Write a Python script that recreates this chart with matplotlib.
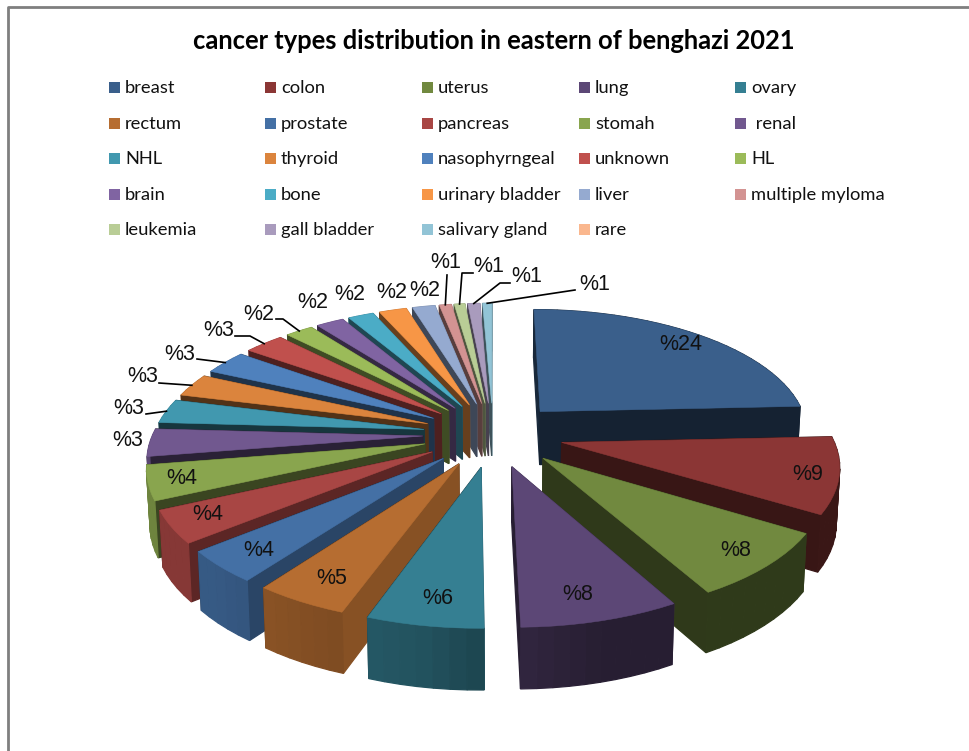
"""Exploded 3D pie of cancer types, drawn as projected polygons"""

import numpy as np
import matplotlib.pyplot as plt
from matplotlib.patches import Polygon, Rectangle

types = ['breast', 'colon', 'uterus', 'lung', 'ovary',
         'rectum', 'prostate', 'pancreas', 'stomah', ' renal',
         'NHL', 'thyroid', 'nasophyrngeal', 'unknown', 'HL',
         'brain', 'bone', 'urinary bladder', 'liver', 'multiple myloma',
         'leukemia', 'gall bladder', 'salivary gland', 'rare']
# Printed labels, and the shares
shown = [24, 9, 8, 8, 6, 5, 4, 4, 4, 3, 3, 3, 3, 3, 2, 2, 2, 2, 2, 1, 1, 1, 1]
share = [24.3, 9.5, 8.17, 7.83, 5.71, 4.62, 4.0, 4.05, 4.33, 3.47, 3.05, 2.92, 3.05, 2.78,
         1.94, 1.94, 1.8, 1.94, 1.6, 0.85, 0.75, 0.85, 0.65, 0.0]
colors = ['#3A5F8B', '#8B3635', '#71893F', '#5C4776', '#357F92', '#B66D31',
          '#4470A5', '#A84644', '#89A54E', '#71588F', '#4198AF', '#DB843D',
          '#4F81BD', '#C0504D', '#9BBB59', '#8064A2', '#4BACC6', '#F79646',
          '#95AAD0', '#D39392', '#B9CD96', '#A99BBD', '#92C4D6', '#FAB78E']

# Label centres and leader bends, in pixels of the picture
label_xy = [(681, 344), (808, 474), (736, 551), (578, 594), (438, 598), (332, 579),
            (259, 551), (208, 515), (182, 478), (128, 441), (129, 408), (143, 376),
            (180, 354), (219, 330), (259, 314), (313, 303), (350, 294), (392, 293),
            (425, 290), (446, 263), (489, 267), (527, 276), (595, 284)]
leaders = {10: [(146, 414)],
           11: [(159, 383)],
           12: [(197, 359)],
           13: [(235, 336), (250, 336)],
           14: [(276, 319), (283, 319)],
           19: [(447, 275)],
           20: [(473, 273), (462, 273)],
           21: [(510, 283), (500, 283)],
           22: [(575, 290)]}

# Projection of the pie plane on the picture
CX, CY = 493, 434.3
SCALE_X, SCALE_Y = 270, 124.3
PERSP = 0.155
EXPLODE = 0.26
HEIGHT = 54


def project(u, v, low=False):
    """Plane coordinates (u right, v to the viewer) to pixels, low = bottom of the pie."""
    u, v = np.asarray(u, float), np.asarray(v, float)
    s = 1 / (1 - PERSP * v)
    x = CX + SCALE_X * u * s
    y = CY + SCALE_Y * v * s
    if low:
        x = CX + (x - CX) * 0.99
        y = y + HEIGHT / (1 - 0.1 * v)
    return np.column_stack([x, y])


def darker(color, f):
    rgb = np.array(plt.matplotlib.colors.to_rgb(color))
    return tuple(rgb * f)


def radial_shade(phi):
    return np.interp(np.sin(np.radians(phi)),
                     [-1, -0.48, 0, 0.19, 0.42, 0.64, 0.81, 0.95, 1],
                     [0.42, 0.40, 0.35, 0.38, 0.42, 0.55, 0.62, 0.75, 0.75])


def arc_shade(phi):
    return np.interp(phi, [90, 165, 175, 190, 207, 225, 270],
                     [0.42, 0.42, 0.5, 0.65, 0.72, 0.8, 0.8])


def draw_slice(ax, color, t0, t1):
    mid = (t0 + t1) / 2
    u0 = EXPLODE * np.sin(np.radians(mid))
    v0 = -EXPLODE * np.cos(np.radians(mid))
    t = np.linspace(t0, t1, max(int(t1 - t0) // 3 + 2, 3))
    u = u0 + np.sin(np.radians(t))
    v = v0 - np.cos(np.radians(t))

    # walls as (depth, corners, colour), painted from back to front
    faces = []
    for ui, vi, phi in [(u[0], v[0], t0 - 90), (u[-1], v[-1], t1 + 90)]:
        us, vs = [u0, ui], [v0, vi]
        pts = np.vstack([project(us, vs), project(us, vs, True)[::-1]])
        faces.append((np.mean(vs), pts, darker(color, radial_shade(phi))))
    for i in range(len(t) - 1):
        us, vs = u[i:i + 2], v[i:i + 2]
        pts = np.vstack([project(us, vs), project(us, vs, True)[::-1]])
        faces.append((np.mean(vs), pts, darker(color, arc_shade((t[i] + t[i + 1]) / 2))))
    for _, pts, c in sorted(faces, key=lambda f: f[0]):
        ax.add_patch(Polygon(pts, closed=True, facecolor=c, edgecolor=c, linewidth=0.9))

    top = project(np.r_[u0, u], np.r_[v0, v])
    ax.add_patch(Polygon(top, closed=True, facecolor=color, edgecolor=color, linewidth=0.4))
    return project(u0 + np.sin(np.radians(mid)), v0 - np.cos(np.radians(mid))).ravel()


fig = plt.figure(figsize=(9.7, 7.51), dpi=100)
ax = fig.add_axes([0, 0, 1, 1])
ax.set_xlim(0, 970)
ax.set_ylim(751, 0)
ax.axis('off')

# Chart frame, only left and top are inside the crop
ax.plot([8, 8, 970], [751, 7, 7], color='#7F7F7F', linewidth=2)

ax.text(493.5, 41, 'cancer types distribution in eastern of benghazi 2021',
        family='Lato', fontweight='bold', fontsize=18.4, ha='center', va='center')

# Legend is laid out by hand: five fixed columns, filled row by row
col_x = [109, 265, 422, 579, 735]
row_y = [87, 123, 158, 194, 229]
for i, (name, color) in enumerate(zip(types, colors)):
    row, col = divmod(i, 5)
    ax.add_patch(Rectangle((col_x[col], row_y[row] - 5.5), 11, 11, facecolor=color, edgecolor='none'))
    ax.text(col_x[col] + 16, row_y[row] + 1, name, family='Lato', fontsize=13.2, va='center', color='#111111')

# Slices, far ones first so the near ones cover them
edges = 360 * np.r_[0, np.cumsum(share)] / np.sum(share)
mids = (edges[:-1] + edges[1:]) / 2
anchors = {}
for i in np.argsort(-np.cos(np.radians(mids))):
    if share[i] > 0:
        anchors[i] = draw_slice(ax, colors[i], edges[i], edges[i + 1])

for i, bends in leaders.items():
    pts = np.vstack([bends, anchors[i]])
    ax.plot(pts[:, 0], pts[:, 1], color='black', linewidth=1.2)

for i, (x, y) in enumerate(label_xy):
    ax.text(x, y, f'%{shown[i]}', family='Liberation Sans', fontsize=15.5,
            ha='center', va='center', color='#111111')

fig.savefig('out.png', dpi=100)
